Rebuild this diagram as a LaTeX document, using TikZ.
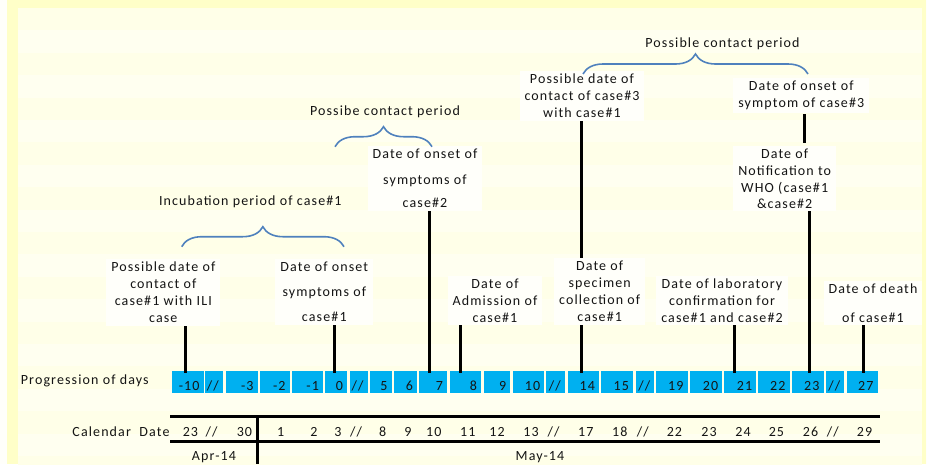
\documentclass[tikz,border=0pt]{standalone}
\usepackage{fontspec}
\setmainfont{Carlito}[LetterSpace=8]
\usepackage{tikz}
\usetikzlibrary{calc,positioning,decorations.pathreplacing}
\definecolor{frameyellow}{HTML}{FFFFC8}
\definecolor{paneyellow}{HTML}{FFFFF0}
\definecolor{stripeyellow}{HTML}{FFFFE8}
\definecolor{boxwhite}{HTML}{FFFFFA}
\definecolor{daycell}{HTML}{00B0F0}
\definecolor{bracecol}{HTML}{4F81BD}
\definecolor{inkgray}{HTML}{141414}
\newcommand{\skipmark}{//}

\begin{document}
\begin{tikzpicture}[x=1pt,y=-1pt,
  every node/.style={font=\fontsize{14}{17}\selectfont, text=inkgray},
  lbl/.style={align=center, inner xsep=5pt, inner ysep=3pt, fill=boxwhite, anchor=north},
  daybox/.style={fill=daycell, inner sep=0pt, anchor=south west, minimum height=22pt},
  marker/.style={line width=3pt, black},
  curly/.style={draw=bracecol, line width=1.6pt, decorate,
    decoration={brace, amplitude=20pt, aspect=0.5}},
  calrule/.style={line width=2.8pt, black}
]
\useasboundingbox (0,0) rectangle (927,464);

% background
\fill[boxwhite] (0,0) rectangle (927,464);
\fill[frameyellow] (7,0) rectangle (926,464);
\fill[paneyellow] (18,8) rectangle (922,464);
\foreach \k in {0,2,...,20}
  \fill[stripeyellow] (18,{8+22.4*\k}) rectangle (922,{8+22.4*(\k+1)});

% days and calendar dates
\foreach \i/\d/\cal/\l/\r in {1/-10/23/172/203.3, 2/\skipmark/\skipmark/205/222.7,
    3/-3/30/226/257.3, 4/-2/1/260/289.3, 5/-1/2/292/322.7, 6/0/3/324.7/346.7,
    7/\skipmark/\skipmark/349.3/367.3, 8/5/8/370/391.3, 9/6/9/394/416.7,
    10/7/10/418.7/446.7, 11/8/11/449.3/480.7, 12/9/12/483.3/510,
    13/10/13/512.7/544, 14/\skipmark/\skipmark/546/564.7, 15/14/17/567.3/598.7,
    16/15/18/601/632.7, 17/\skipmark/\skipmark/635.3/654, 18/19/22/656/687.3,
    19/20/23/690/722, 20/21/24/724/756, 21/22/25/758/789.3, 22/23/26/792/823.3,
    23/\skipmark/\skipmark/826/844, 24/27/29/846.7/877.3}
{
  \node[daybox, minimum width={(\r-\l)*1pt}] (c\i) at (\l,393) {};
  \node[anchor=base east, inner sep=0pt] (n\i) at ($(c\i.south east)+(-4,-3)$) {\d};
  \node[anchor=base east, inner sep=0pt] (k\i) at (\r-5,436.5) {\cal};
}

\node[anchor=base west, inner sep=0pt] (progLbl) at (20.7,384) {Progression of days};
\node[anchor=base, inner sep=0pt] (calLbl) at (121,436.5) {Calendar\ \ Date};
\node[anchor=base, inner sep=0pt] (aprLbl) at (214,460.5) {Apr-14};
\node[anchor=base, inner sep=0pt] (mayLbl) at (540,460.5) {May-14};

\coordinate (calTL) at (170,416.7);
\coordinate (calTR) at (880,416.7);
\coordinate (calBL) at (170,441.3);
\coordinate (calBR) at (880,441.3);
\coordinate (monTop) at (257.5,416.7);
\coordinate (monBot) at (257.5,464);
\draw[calrule] (calTL) -- (calTR);
\draw[calrule] (calBL) -- (calBR);
\draw[calrule] (monTop) -- (monBot);

% markers
\coordinate (m1) at (185.3,324);
\coordinate (m2) at (334.7,323);
\coordinate (m3) at (429,209);
\coordinate (m4) at (460,323);
\coordinate (m5) at (581.3,119);
\coordinate (m6) at (734,324);
\coordinate (m7) at (809.7,211);
\coordinate (m8) at (863,324);
\coordinate (s1) at (804.7,114);
\coordinate (s2) at (804.7,143);
\foreach \m/\c in {m1/c1, m2/c6, m3/c10, m4/c11, m5/c15, m6/c20, m7/c22, m8/c24}
  \draw[marker] (\m) -- ($(\m |- \c.north)+(0,2)$);
\draw[marker] (s1) -- (s2);

% event labels
\node[lbl] (lblContactOne) at (163.3,258.7) {Possible date of\\contact of\\case\#1 with ILI\\case};
\node[lbl] (lblOnsetOne) at (324.3,258.7) {Date of onset\\[8pt]symptoms of\\[8pt]case\#1};
\node[lbl] (lblOnsetTwo) at (425,146) {Date of onset of\\[8.3pt]symptoms of\\[6.4pt]case\#2};
\node[lbl] (lblAdmit) at (495,275.3) {Date of\\Admission of\\case\#1};
\node[lbl] (lblSpecimen) at (599.7,258) {Date of\\specimen\\collection of\\case\#1};
\node[lbl] (lblLab) at (722,275.3) {Date of laboratory\\confirmation for\\case\#1 and case\#2};
\node[lbl] (lblDeath) at (873,281) {Date of death\\[11.3pt]of case\#1};
\node[lbl] (lblContactThree) at (582,71) {Possible date of\\contact of case\#3\\with case\#1};
\node[lbl] (lblOnsetThree) at (801.3,78) {Date of onset of\\symptom of case\#3};
\node[lbl] (lblNotify) at (784.7,146) {Date of\\Notification to\\WHO (case\#1\\[-1.7pt]\&case\#2};

% periods
\node[anchor=base, inner sep=0pt] (perContactTwo) at (385,115.2) {Possibe contact period};
\node[anchor=base, inner sep=0pt] (perIncub) at (250.3,205.5) {Incubation period of case\#1};
\node[anchor=base, inner sep=0pt] (perContactThree) at (722.5,47.2) {Possible contact period};

\coordinate (b1L) at (335,146.7);
\coordinate (b1R) at (432,146.7);
\coordinate (b2L) at (181.7,246.7);
\coordinate (b2R) at (344,246.7);
\coordinate (b3L) at (583,74);
\coordinate (b3R) at (808,74);
\draw[curly] (b1L) -- (b1R);
\draw[curly] (b2L) -- (b2R);
\draw[curly] (b3L) -- (b3R);

\end{tikzpicture}
\end{document}
